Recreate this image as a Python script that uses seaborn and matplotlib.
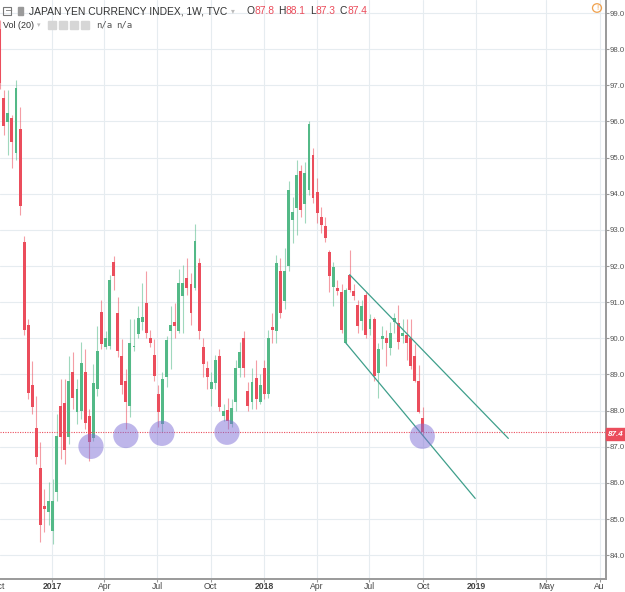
import matplotlib
matplotlib.use("Agg")
import matplotlib.pyplot as plt
from matplotlib.patches import Rectangle, Circle
import numpy as np
import pandas as pd
import seaborn as sns

# weekly candles (TVC:JXY), first week starts 2016-10-03
first_week = "2016-10-03"
opens = [98.56, 96.65, 95.99, 96.10, 95.13, 95.80, 92.67, 90.38, 88.72, 87.51,
         86.40, 85.35, 85.20, 84.66, 85.74, 88.12, 88.20, 87.26, 89.08, 87.95,
         87.98, 89.06, 87.84, 87.23, 88.61, 90.74, 89.77, 89.80, 92.12, 90.71,
         89.50, 88.81, 88.12, 89.75, 90.13, 90.44, 90.99, 90.02, 89.55, 88.45,
         87.62, 88.94, 90.19, 90.44, 90.19, 91.18, 91.68, 91.49, 91.40, 92.07,
         89.77, 89.17, 88.61, 88.75, 89.50, 87.84, 88.01, 87.62, 88.23, 89.17,
         90.02, 88.53, 88.25, 88.89, 88.25, 89.17, 88.45, 90.30, 90.19, 91.85,
         91.02, 92.01, 93.28, 93.61, 94.64, 93.72, 94.11, 95.08, 94.06, 93.36,
         93.12, 92.40, 91.43, 91.38, 91.29, 89.88, 91.76, 91.32, 90.91, 90.49,
         91.21, 90.27, 90.52, 89.03, 89.99, 90.02, 89.72, 90.44, 90.41, 90.05,
         90.08, 90.02, 89.50, 88.81, 87.80]
highs = [98.80, 96.87, 96.87, 96.18, 97.15, 96.40, 92.84, 90.52, 89.36, 88.39,
         87.12, 85.83, 86.02, 86.10, 87.90, 88.86, 88.86, 89.50, 89.61, 88.86,
         89.91, 89.69, 88.03, 89.28, 90.33, 91.07, 90.19, 91.76, 92.29, 91.15,
         89.97, 89.14, 90.52, 90.52, 90.88, 91.54, 91.85, 90.24, 89.97, 88.70,
         89.06, 90.05, 90.88, 90.99, 91.93, 92.04, 92.23, 91.82, 93.17, 92.23,
         90.02, 89.36, 89.06, 89.55, 89.69, 88.17, 88.36, 88.31, 89.41, 89.91,
         90.19, 88.78, 89.19, 89.41, 89.00, 89.41, 90.24, 90.71, 92.31, 92.23,
         92.51, 94.36, 93.92, 94.94, 94.80, 94.88, 96.00, 95.27, 94.44, 93.64,
         93.36, 92.45, 92.12, 91.62, 91.49, 91.40, 92.45, 91.49, 91.07, 91.07,
         91.29, 90.66, 90.60, 89.88, 90.33, 90.24, 90.46, 90.71, 90.91, 90.52,
         90.52, 90.52, 89.83, 89.25, 88.10]
lows = [96.90, 95.63, 95.08, 94.72, 94.94, 93.42, 90.10, 88.31, 87.90, 86.51,
        84.36, 84.64, 84.83, 84.30, 85.49, 86.65, 86.51, 87.07, 88.03, 87.62,
        87.76, 87.48, 86.60, 87.15, 88.39, 89.69, 89.69, 89.69, 91.35, 89.47,
        88.45, 87.48, 87.81, 89.66, 90.02, 90.24, 90.02, 89.75, 88.81, 87.54,
        87.40, 88.64, 89.14, 90.02, 90.16, 90.16, 91.21, 90.38, 91.35, 89.97,
        88.92, 88.59, 88.12, 88.59, 87.98, 87.70, 87.48, 87.54, 87.98, 88.94,
        88.92, 87.98, 88.03, 88.03, 88.17, 88.31, 88.36, 89.88, 89.88, 90.57,
        90.80, 91.85, 92.65, 92.87, 93.36, 93.20, 93.97, 93.75, 93.20, 92.92,
        92.67, 91.29, 90.88, 91.21, 90.16, 89.83, 91.27, 91.07, 90.16, 90.24,
        90.02, 90.10, 88.81, 88.36, 89.69, 89.22, 89.55, 90.16, 89.69, 89.88,
        89.41, 89.14, 88.78, 87.92, 87.30]
closes = [97.07, 95.88, 96.24, 95.44, 96.93, 93.67, 90.22, 88.50, 88.09, 86.71,
          84.83, 85.28, 85.50, 85.49, 87.31, 87.26, 86.90, 88.81, 88.34, 88.61,
          89.33, 87.67, 87.12, 88.75, 89.64, 89.83, 90.02, 91.62, 91.71, 89.64,
          88.70, 88.23, 89.86, 89.80, 90.55, 90.60, 90.16, 89.86, 88.97, 87.95,
          88.86, 89.94, 90.38, 90.33, 91.54, 91.54, 91.40, 90.69, 92.70, 90.19,
          89.30, 88.92, 88.78, 89.41, 88.09, 87.98, 87.70, 88.06, 89.19, 89.61,
          89.17, 88.12, 88.78, 88.31, 88.72, 88.45, 90.02, 90.24, 92.07, 90.71,
          91.87, 94.11, 93.50, 94.52, 93.56, 94.58, 95.93, 93.89, 93.48, 93.14,
          92.78, 91.71, 91.96, 91.32, 90.24, 91.35, 91.35, 91.18, 90.33, 90.88,
          90.08, 90.52, 88.97, 89.69, 90.05, 89.88, 90.16, 90.55, 89.91, 90.16,
          89.88, 89.22, 88.81, 87.95, 87.40]
last_price = 87.4

# hand drawn channel and support marks
upper_line_dates = ["2018-05-28", "2019-02-25"]
upper_line_prices = [91.76, 87.23]
lower_line_dates = ["2018-05-21", "2018-12-30"]
lower_line_prices = [89.88, 85.57]
mark_dates = ["2017-03-09", "2017-05-08", "2017-07-09", "2017-10-29", "2018-09-30"]
mark_prices = [87.01, 87.31, 87.37, 87.40, 87.29]

month_ticks = ["2017-01-01", "2017-04-01", "2017-07-01", "2017-10-01", "2018-01-01",
               "2018-04-01", "2018-07-01", "2018-10-01", "2019-01-01", "2019-05-01", "2019-08-01"]
month_labels = ["2017", "Apr", "Jul", "Oct", "2018", "Apr", "Jul", "Oct", "2019", "May", "Au"]
price_ticks = list(range(84, 100))

UP, DOWN = "#53b987", "#eb4d5c"
GRID = "#e6ecf0"
YMIN, YMAX = 83.34, 99.36

sns.set_theme(style="white")
plt.rcParams["font.family"] = ["Liberation Sans", "DejaVu Sans"]

df = pd.DataFrame({"open": opens, "high": highs, "low": lows, "close": closes})
df["date"] = pd.date_range(first_week, periods=len(df), freq="7D")
df["up"] = df["close"] >= df["open"]
df["color"] = np.where(df["up"], UP, DOWN)

W, H = 625, 592
fig = plt.figure(figsize=(W / 100, H / 100), dpi=100)
ax = fig.add_axes([0, 13 / H, 606 / W, 579 / H])

# grid
for d in month_ticks:
    ax.axvline(pd.Timestamp(d), color=GRID, lw=0.8, zorder=0)
for p in price_ticks:
    ax.axhline(p, color=GRID, lw=0.8, zorder=0)

# candles
ax.vlines(df["date"], df["low"], df["high"], colors=df["color"], lw=0.8, alpha=0.55, zorder=2)
body_lo = df[["open", "close"]].min(axis=1)
body_h = (df["open"] - df["close"]).abs().clip(lower=0.05)
ax.bar(df["date"], body_h, bottom=body_lo, width=5.0, color=df["color"], lw=0, zorder=3)

# last price line
ax.axhline(last_price, color=DOWN, lw=0.8, ls=(0, (1, 1.2)), zorder=4)

# channel
tl = pd.DataFrame({"date": pd.to_datetime(upper_line_dates + lower_line_dates),
                   "price": upper_line_prices + lower_line_prices,
                   "line": ["upper"] * 2 + ["lower"] * 2})
sns.lineplot(data=tl, x="date", y="price", units="line", estimator=None,
             color="#3f9f8b", lw=0.9, ax=ax, zorder=5, legend=False)

# support circles
sns.scatterplot(x=pd.to_datetime(mark_dates), y=mark_prices, s=330, color="#7e6fd6",
                alpha=0.5, edgecolor="none", ax=ax, zorder=6, legend=False)

ax.set_xlim(pd.Timestamp("2016-10-03 12:00"), pd.Timestamp("2019-08-12"))
ax.set_ylim(YMIN, YMAX)
ax.set_xlabel("")
ax.set_ylabel("")

ax.yaxis.tick_right()
ax.set_yticks(price_ticks)
ax.set_yticklabels([f"{p:.1f}" for p in price_ticks])
ax.set_xticks(pd.to_datetime(month_ticks))
ax.set_xticklabels(month_labels)
for lbl in ax.get_xticklabels():
    if lbl.get_text().isdigit():
        lbl.set_fontweight("bold")
ax.tick_params(axis="y", right=True, length=2.5, width=0.8, color="#999999",
               labelsize=5.6, labelcolor="#555555", pad=0.3)
ax.tick_params(axis="x", bottom=True, length=2, width=0.8, color="#999999",
               labelsize=6.2, labelcolor="#444444", pad=0.5)
ax.annotate("Oct", xy=(pd.Timestamp("2016-10-01"), YMIN), xytext=(0, -2.5),
            textcoords="offset points", ha="center", va="top",
            fontsize=6.2, color="#444444", annotation_clip=False)
for s in ["top", "left"]:
    ax.spines[s].set_visible(False)
for s in ["right", "bottom"]:
    ax.spines[s].set_color("#9a9a9a")
    ax.spines[s].set_linewidth(1.4)

# price tag on axis
fig.patches.append(Rectangle((606 / W, 1 - 440 / H), 19 / W, 12 / H, transform=fig.transFigure,
                             color=DOWN, zorder=10))
fig.text(615.5 / W, 1 - 434 / H, "87.4", ha="center", va="center", fontsize=5.8,
         color="white", fontweight="bold", style="italic", zorder=11)


def ftext(x, y, s, **kw):
    return fig.text(x / W, 1 - y / H, s, va="center", **kw)


def chain(prev, s, gap=0, **kw):
    # place text right after the previous one
    return ax.annotate(s, xy=(1, 0.5), xycoords=prev, xytext=(gap, 0),
                       textcoords="offset points", va="center", **kw)


# header
fig.patches.append(Rectangle((3 / W, 1 - 15 / H), 8 / W, 8 / H, transform=fig.transFigure,
                             fill=False, ec="#777777", lw=0.8))
ftext(4.6, 11, "−", fontsize=7, color="#777777", family="DejaVu Sans")
fig.patches.append(Rectangle((18 / W, 1 - 15 / H), 5 / W, 8 / H, transform=fig.transFigure,
                             color="#9a9a9a"))
t = ftext(29, 11, "JAPAN YEN CURRENCY INDEX, 1W, TVC", fontsize=7.4, color="#333333")
t = chain(t, "▾", gap=3, fontsize=5.5, color="#bbbbbb", family="DejaVu Sans")
for i, (key, val) in enumerate([("O", "87.8"), ("H", "88.1"), ("L", "87.3"), ("C", "87.4")]):
    t = chain(t, key, gap=8 if i == 0 else 3, fontsize=7.4, color="#333333")
    t = chain(t, val, gap=0, fontsize=7.4, color=DOWN)

t = ftext(3, 25, "Vol (20)", fontsize=6.5, color="#333333")
chain(t, "▾", gap=2, fontsize=5, color="#bbbbbb", family="DejaVu Sans")
for x in [48, 59, 70, 81]:
    fig.patches.append(Rectangle((x / W, 1 - 29 / H), 8 / W, 8 / H, transform=fig.transFigure,
                                 color="#d6d6d6"))
ftext(96, 25, "n/a", fontsize=6.5, color="#555555", family="DejaVu Sans Mono")
ftext(116, 25, "n/a", fontsize=6.5, color="#555555", family="DejaVu Sans Mono")

# warning icon
fig.patches.append(Circle((597 / W, 1 - 8 / H), 4.5 / W, transform=fig.transFigure,
                          fill=False, ec="#f0a04b", lw=0.9))
ftext(597, 8, "!", ha="center", fontsize=5.5, color="#f0a04b")

fig.savefig("out.png", dpi=100)
